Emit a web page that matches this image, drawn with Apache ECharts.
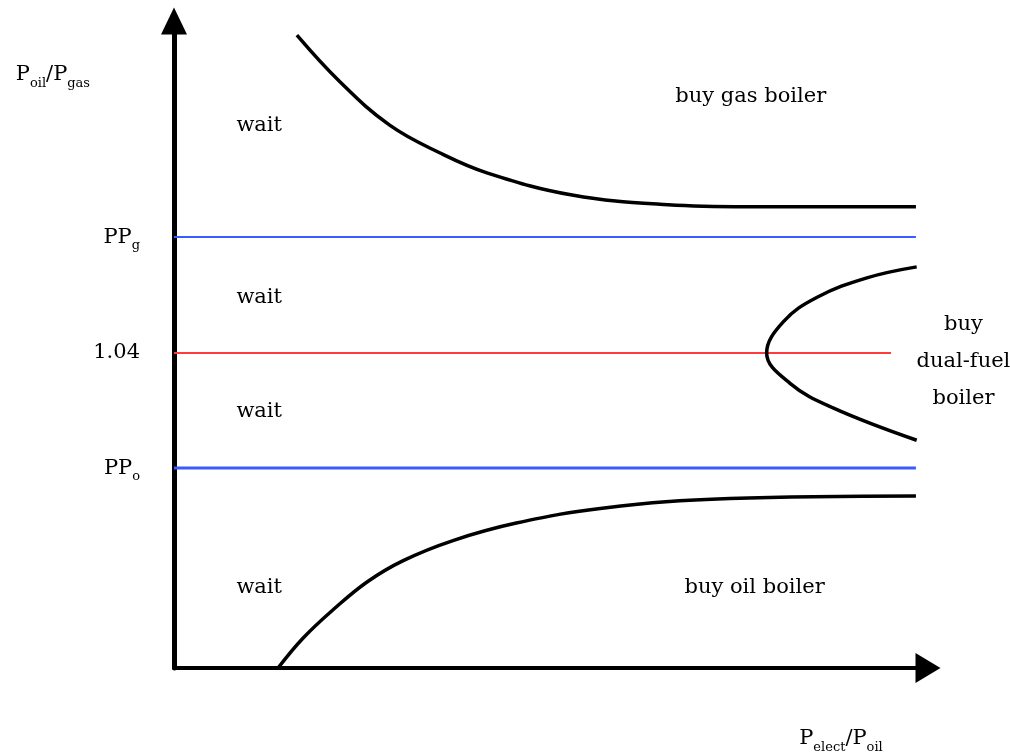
<!DOCTYPE html>
<html>
<head>
<meta charset="utf-8">
<title>Boiler choice regions</title>
<script src="https://cdn.jsdelivr.net/npm/echarts@6/dist/echarts.min.js"></script>
<style>
  html, body { margin: 0; padding: 0; background: #fff; }
  #main { width: 1010px; height: 755px; }
</style>
</head>
<body>
<div id="main"></div>
<script>
// values, in arbitrary axis units (x: Pelect/Poil, y: Poil/Pgas)
var gasBoundary = [[1.63, 9.78], [2.20, 9.06], [2.86, 8.39], [3.53, 7.96], [4.16, 7.65],
  [5.28, 7.31], [6.55, 7.16], [7.60, 7.13], [9.84, 7.13]];
var oilBoundary = [[1.38, 0], [1.71, 0.46], [2.11, 0.90], [2.56, 1.33], [3.04, 1.66], [3.70, 1.97],
  [4.54, 2.24], [5.68, 2.47], [7.37, 2.62], [9.84, 2.66]];
var dualBoundary = [[9.85, 6.20], [9.19, 6.03], [8.53, 5.73], [8.08, 5.35], [7.86, 4.87],
  [8.17, 4.40], [8.74, 4.02], [9.85, 3.52]];

var tickValues = [3.09, 4.87, 6.66];
var tickLabels = ['{m|PP}{s|o}', '{m|1.04}', '{m|PP}{s|g}'];

var ppgLine = [[0, 6.66], [9.84, 6.66]];
var ratioLine = [[0, 4.87], [9.51, 4.87]];
var ppoLine = [[0, 3.09], [9.84, 3.09]];

var regionNotes = [
  [1.13, 8.38, 'wait'],
  [1.13, 5.72, 'wait'],
  [1.13, 3.96, 'wait'],
  [1.13, 1.25, 'wait'],
  [7.65, 8.83, 'buy gas boiler'],
  [7.70, 1.25, 'buy oil boiler'],
  [10.47, 4.73, 'buy\ndual-fuel\nboiler']
];

var FONT = 'DejaVu Serif';
var richText = {
  m: { fontFamily: FONT, fontSize: 21, color: '#000' },
  s: { fontFamily: FONT, fontSize: 13, color: '#000', padding: [17, 0, 0, 0] }
};

var chart = echarts.init(document.getElementById('main'));

var option = {
  animation: false,
  backgroundColor: '#fff',
  grid: { left: 174, right: 82, top: 21, bottom: 87 },
  xAxis: {
    type: 'value',
    min: 0,
    max: 10,
    name: '{m|P}{s|elect}{m|/P}{s|oil}',
    nameLocation: 'end',
    nameGap: -87,
    nameTextStyle: { align: 'center', verticalAlign: 'top', padding: [56, 0, 0, 0], rich: richText },
    axisLine: {
      lineStyle: { color: '#000', width: 4 },
      symbol: ['none', 'triangle'],
      symbolSize: [30, 25]
    },
    axisTick: { show: false },
    axisLabel: { show: false },
    splitLine: { show: false }
  },
  yAxis: {
    type: 'value',
    min: 0,
    max: 10,
    name: '{m|P}{s|oil}{m|/P}{s|gas}',
    nameLocation: 'end',
    nameGap: -54,
    nameTextStyle: { align: 'right', verticalAlign: 'middle', padding: [0, 84, 0, 0], rich: richText },
    axisLine: {
      lineStyle: { color: '#000', width: 5 },
      symbol: ['none', 'triangle'],
      symbolSize: [26, 27]
    },
    axisTick: { show: false },
    axisLabel: {
      customValues: tickValues,
      margin: 34,
      formatter: function (v) {
        for (var i = 0; i < tickValues.length; i++) {
          if (Math.abs(tickValues[i] - v) < 1e-6) return tickLabels[i];
        }
        return '';
      },
      rich: richText
    },
    splitLine: { show: false }
  },
  series: [
    { type: 'line', data: ppgLine, symbol: 'none', lineStyle: { color: '#3a5cff', width: 2 }, z: 1 },
    { type: 'line', data: ratioLine, symbol: 'none', lineStyle: { color: '#ff3b3b', width: 2 }, z: 1 },
    { type: 'line', data: ppoLine, symbol: 'none', lineStyle: { color: '#3a5cff', width: 3 }, z: 1 },
    { type: 'line', data: gasBoundary, symbol: 'none', smooth: 0.4, lineStyle: { color: '#000', width: 3.5 }, z: 3 },
    { type: 'line', data: oilBoundary, symbol: 'none', smooth: 0.4, lineStyle: { color: '#000', width: 3.5 }, z: 3 },
    { type: 'line', data: dualBoundary, symbol: 'none', smooth: 0.4, lineStyle: { color: '#000', width: 3.5 }, z: 3 },
    {
      type: 'scatter',
      clip: false,
      symbolSize: 0,
      itemStyle: { opacity: 1 },
      data: regionNotes.map(function (d) { return { value: [d[0], d[1]], name: d[2] }; }),
      label: {
        show: true,
        position: 'inside',
        formatter: '{b}',
        fontFamily: FONT,
        fontSize: 21,
        lineHeight: 37,
        color: '#000',
        opacity: 1,
        align: 'center'
      }
    }
  ]
};

chart.setOption(option);
</script>
</body>
</html>
